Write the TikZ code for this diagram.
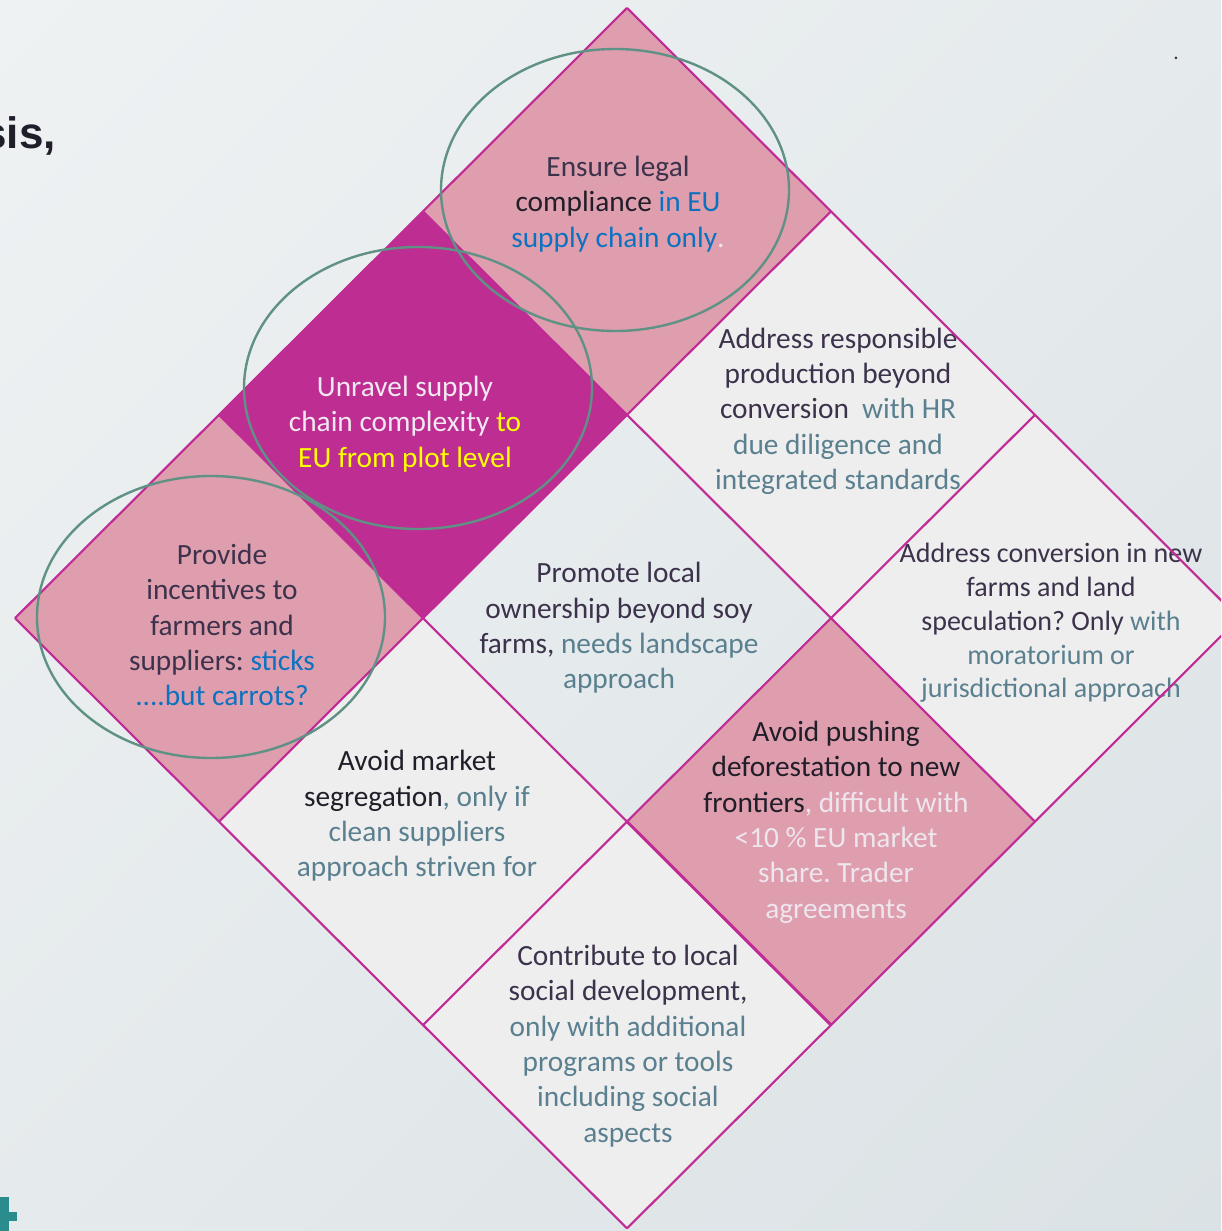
\documentclass[tikz,border=0pt]{standalone}
\usepackage{fontspec}
\usetikzlibrary{shadings}
\setmainfont{Carlito}
\newfontfamily\headfont{Liberation Sans}
\frenchspacing
\definecolor{bgA}{RGB}{239,242,243}
\definecolor{bgM}{RGB}{229,234,236}
\definecolor{bgB}{RGB}{219,226,229}
\definecolor{pinkc}{RGB}{223,158,174}
\definecolor{magc}{RGB}{190,45,145}
\definecolor{grayc}{RGB}{238,238,238}
\definecolor{linec}{RGB}{192,43,150}
\definecolor{ellc}{RGB}{95,145,133}
\definecolor{darkt}{RGB}{60,50,75}
\definecolor{blackt}{RGB}{32,30,40}
\definecolor{bluet}{RGB}{12,114,192}
\definecolor{tealt}{RGB}{90,128,144}
\definecolor{whitet}{RGB}{242,232,242}
\definecolor{lightt}{RGB}{238,230,238}
\definecolor{yellowt}{RGB}{255,255,0}
\definecolor{plusc}{RGB}{42,140,140}
\tikzset{
  celltext/.style={align=center, inner sep=0pt, font=\fontsize{22}{26.5}\selectfont, text=darkt},
  gridline/.style={draw=linec, line width=1.6pt},
  ring/.style={draw=ellc, line width=1.8pt},
}
\begin{document}
\begin{tikzpicture}[x=0.75pt, y=-0.75pt]
\useasboundingbox (0,0) rectangle (1221,1231);
\begin{scope}
\clip (0,0) rectangle (1221,1231);
\shade[upper left=bgA, upper right=bgM, lower left=bgM, lower right=bgB] (0,0) rectangle (1221,1231);
\foreach \a in {0,...,3}{
  \foreach \b in {0,...,3}{
    \coordinate (p\a\b) at ({627+204*(\a-\b)},{8+203.4*(\a+\b)});
  }
}
% cell fills
\fill[pinkc] (p00)--(p10)--(p11)--(p01)--cycle;
\fill[magc] (p01)--(p11)--(p12)--(p02)--cycle;
\fill[pinkc] (p02)--(p12)--(p13)--(p03)--cycle;
\fill[grayc] (p10)--(p20)--(p21)--(p11)--cycle;
\fill[grayc] (p12)--(p22)--(p23)--(p13)--cycle;
\fill[grayc] (p20)--(p30)--(p31)--(p21)--cycle;
\fill[pinkc] (p21)--(p31)--(p32)--(p22)--cycle;
\fill[grayc] (p22)--(p32)--(p33)--(p23)--cycle;
% texts
\node[celltext] (ensure) at (618,204) {Ensure legal\\\textcolor{blackt}{compliance} \textcolor{bluet}{in EU}\\\textcolor{bluet}{supply chain only}\textcolor{lightt}{.}};
\node[celltext, text=whitet] (unravel) at (405,424) {Unravel supply\\chain complexity \textcolor{yellowt}{to}\\\textcolor{yellowt}{EU from plot level}};
\node[celltext] (provide) at (222,625) {Provide\\incentives to\\farmers and\\suppliers: \textcolor{bluet}{sticks}\\\textcolor{bluet}{....but carrots?}};
\node[celltext] (respons) at (838,411) {Address responsible\\production beyond\\conversion\ \ \textcolor{tealt}{with HR}\\\textcolor{tealt}{due diligence and}\\\textcolor{tealt}{integrated standards}};
\node[celltext, font=\fontsize{21}{25.3}\selectfont] (convers) at (1051,623) {Address conversion in new\\farms and land\\speculation? Only \textcolor{tealt}{with}\\\textcolor{tealt}{moratorium or}\\\textcolor{tealt}{jurisdictional approach}};
\node[celltext] (promote) at (619,628) {Promote local\\ownership beyond soy\\farms, \textcolor{tealt}{needs landscape}\\\textcolor{tealt}{approach}};
\node[celltext, text=blackt] (pushing) at (836,822) {Avoid pushing\\deforestation to new\\frontiers\textcolor{lightt}{, difficult with}\\\textcolor{lightt}{<10 \% EU market}\\\textcolor{lightt}{share. Trader}\\\textcolor{lightt}{agreements}};
\node[celltext, text=blackt] (segreg) at (417,816) {Avoid market\\segregation\textcolor{tealt}{, only if}\\\textcolor{tealt}{clean suppliers}\\\textcolor{tealt}{approach striven for}};
\node[celltext] (contrib) at (628,1046) {Contribute to local\\social development,\\\textcolor{tealt}{only with additional}\\\textcolor{tealt}{programs or tools}\\\textcolor{tealt}{including social}\\\textcolor{tealt}{aspects}};
% grid lines
\foreach \k in {0,...,3}{
  \draw[gridline] (p\k0) -- (p\k3);
  \draw[gridline] (p0\k) -- (p3\k);
}
\draw[gridline, line width=2.2pt] (p22) -- (p32);
% ellipses
\draw[ring] (615,190) ellipse [x radius=174, y radius=141];
\draw[ring] (418,388) ellipse [x radius=174, y radius=141];
\draw[ring] (211,617) ellipse [x radius=174, y radius=141];
% extras
\node[anchor=base east, inner sep=0pt, font=\headfont\bfseries\fontsize{33}{36}\selectfont, text=blackt] (sis) at (56,148) {sis,};
\node[inner sep=0pt, font=\fontsize{16}{18}\selectfont, text=darkt] (dot) at (1176,58) {.};
\fill[plusc] (0,1197) rectangle (9,1231);
\fill[plusc] (0,1212) rectangle (17,1221);
\end{scope}
\end{tikzpicture}
\end{document}
